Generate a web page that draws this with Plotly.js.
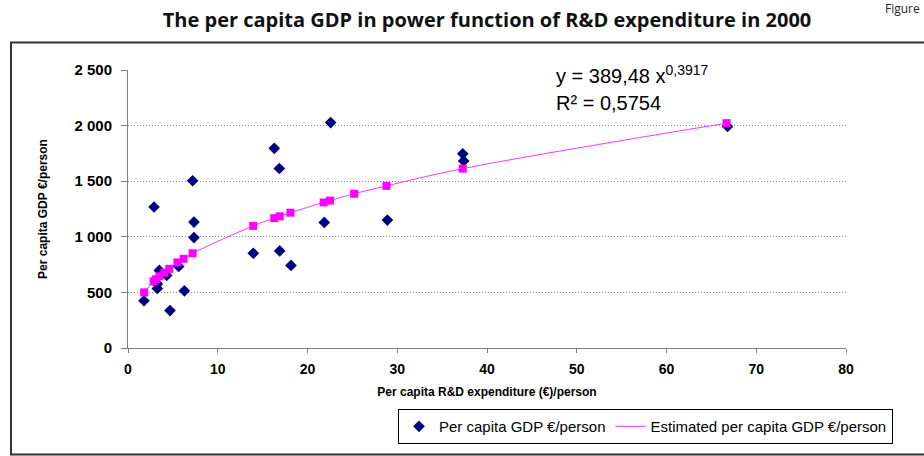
<!DOCTYPE html>
<html>
<head>
<meta charset="utf-8">
<script src="https://cdn.plot.ly/plotly-3.0.1.min.js"></script>
<style>html,body{margin:0;padding:0;background:#fff;}#chart{width:924px;height:456px;}</style>
</head>
<body>
<div id="chart"></div>
<script>
// Observed data: per capita R&D expenditure (€/person) and per capita GDP (€/person)
const rdExpenditure = [1.78, 2.9, 3.49, 3.27, 3.27, 4.31, 4.68, 5.65, 6.28, 7.2, 7.35, 7.35, 13.96, 16.3, 16.86, 16.9, 18.16, 21.87, 22.58, 28.9, 37.3, 37.4, 66.8];
const gdpPerCapita  = [425, 1268, 698, 576, 535, 653, 337, 733, 514, 1504, 1132, 993, 852, 1796, 1614, 873, 743, 1129, 2027, 1150, 1746, 1682, 1992];

// Estimated (power fit) points
const estX = [1.8, 2.85, 3.1, 3.5, 4.05, 4.6, 5.5, 6.2, 7.2, 13.95, 16.3, 16.9, 18.1, 21.8, 22.5, 25.2, 28.8, 37.3, 66.7];
const estY = [500, 600, 618, 645, 678, 712, 770, 802, 852, 1098, 1168, 1184, 1217, 1309, 1326, 1387, 1458, 1613, 2022];

const yTickVals = [0, 500, 1000, 1500, 2000, 2500];
const yTickText = ['0', '500', '1 000', '1 500', '2 000', '2 500'];
const xTickVals = [0, 10, 20, 30, 40, 50, 60, 70, 80];
const xTickText = ['0', '10', '20', '30', '40', '50', '60', '70', '80'];

const titleText = 'The per capita GDP in power function of R&D expenditure in 2000';
const xTitle = 'Per capita R&D expenditure (€)/person';
const yTitle = 'Per capita GDP €/person';
const obsName = 'Per capita GDP €/person';
const estName = 'Estimated per capita GDP €/person';
const eqLine1 = 'y = 389,48 x<sup>0,3917</sup>';
const eqLine2 = 'R² = 0,5754';
const figLabel = 'Figure';

const ARIAL = 'Liberation Sans, Arial, sans-serif';

const traces = [
  {
    x: rdExpenditure, y: gdpPerCapita, type: 'scatter', mode: 'markers', name: obsName,
    marker: {symbol: 'diamond', size: 9, color: '#00007F'}
  },
  {
    x: estX, y: estY, type: 'scatter', mode: 'lines', name: estName,
    line: {color: '#FF33FF', width: 1, shape: 'spline'}
  },
  {
    x: estX, y: estY, type: 'scatter', mode: 'markers', showlegend: false,
    marker: {symbol: 'square', size: 8, color: '#FF00FF'}
  }
];

const L = 128, R = 846, T = 70, B = 352, W = 924, H = 456;
const px = v => (v - L) / (R - L);
const py = v => (B - v) / (B - T);

const layout = {
  width: W, height: H,
  margin: {l: L, r: W - R, t: T, b: H - B, pad: 0},
  paper_bgcolor: '#fff', plot_bgcolor: '#fff',
  font: {family: ARIAL, color: '#000'},
  title: {text: titleText, font: {family: 'Open Sans, sans-serif', size: 20, weight: 'bold', color: '#111'},
          x: 0.5, xref: 'paper', y: 1 - 20 / H, yanchor: 'middle'},
  xaxis: {
    range: [0, 80], tickvals: xTickVals, ticktext: xTickText,
    showline: true, linecolor: '#808080', linewidth: 1,
    ticks: 'outside', ticklen: 4, tickcolor: '#808080',
    showgrid: false, zeroline: false, ticklabelstandoff: 4,
    tickfont: {family: ARIAL, size: 14, weight: 'bold'},
    title: {text: xTitle, font: {family: ARIAL, size: 12, weight: 'bold'}, standoff: 11}
  },
  yaxis: {
    range: [0, 2500], tickvals: yTickVals, ticktext: yTickText,
    showline: true, linecolor: '#808080', linewidth: 1,
    ticks: 'outside', ticklen: 6, tickcolor: '#808080',
    showgrid: true, gridcolor: '#888', griddash: '1px,2px', gridwidth: 1,
    zeroline: false, ticklabelstandoff: 6,
    tickfont: {family: ARIAL, size: 15, weight: 'bold'},
    title: {text: yTitle, font: {family: ARIAL, size: 12, weight: 'bold'}, standoff: 24}
  },
  showlegend: true,
  legend: {
    orientation: 'h', x: px(398), y: py(414), xanchor: 'left', yanchor: 'top',
    bordercolor: '#000', borderwidth: 1, bgcolor: '#fff',
    font: {family: ARIAL, size: 15, color: '#000'},
    itemwidth: 30, tracegroupgap: 0
  },
  annotations: [
    {xref: 'paper', yref: 'paper', x: px(554), y: py(89), xanchor: 'left', yanchor: 'bottom',
     text: eqLine1, showarrow: false, font: {family: ARIAL, size: 20, color: '#000'}},
    {xref: 'paper', yref: 'paper', x: px(554), y: py(90), xanchor: 'left', yanchor: 'top',
     text: eqLine2, showarrow: false, font: {family: ARIAL, size: 20, color: '#000'}},
    {xref: 'paper', yref: 'paper', x: px(922), y: py(8), xanchor: 'right', yanchor: 'middle',
     text: figLabel, showarrow: false, font: {family: 'Open Sans, sans-serif', size: 12, color: '#222'}}
  ],
  shapes: [
    {type: 'rect', xref: 'paper', yref: 'paper', x0: px(11), x1: px(930), y0: py(460), y1: py(42),
     line: {color: '#333', width: 2}, fillcolor: 'rgba(0,0,0,0)', layer: 'below'}
  ]
};

Plotly.newPlot('chart', traces, layout, {displayModeBar: false, staticPlot: true});
</script>
</body>
</html>
